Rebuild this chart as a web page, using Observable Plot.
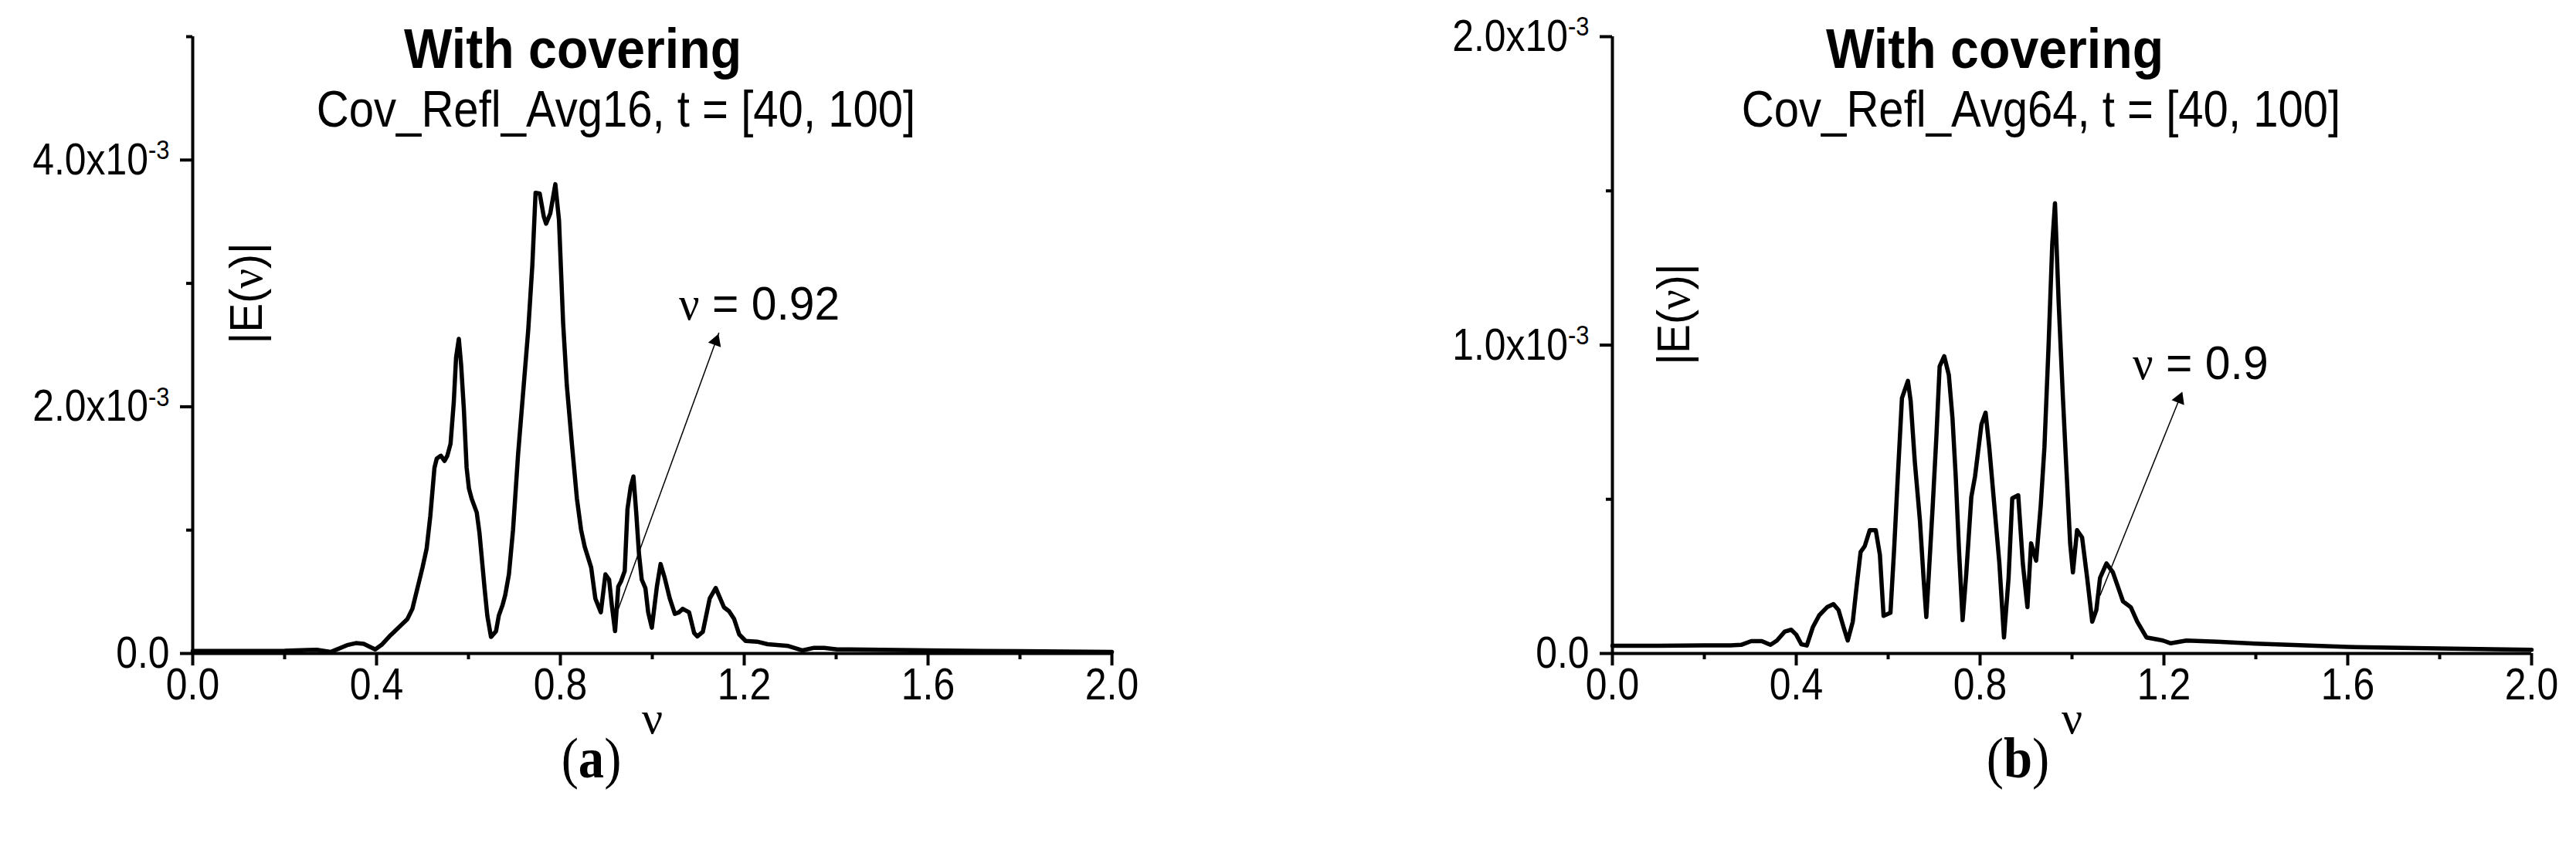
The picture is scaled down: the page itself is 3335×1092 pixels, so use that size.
<!DOCTYPE html>
<html><head><meta charset="utf-8">
<script src="https://cdn.jsdelivr.net/npm/d3@7"></script>
<script src="https://cdn.jsdelivr.net/npm/@observablehq/plot@0.6"></script>
<style>
html,body{margin:0;padding:0;background:#fff;}
#wrap{position:relative;width:3335px;height:1092px;overflow:hidden;background:#fff;}
.panel{position:absolute;top:0;}
</style></head><body><div id="wrap"></div>
<script>
// ---- data (|E| values in units of 1e-3) ----
const nuA = [0.00,0.10,0.20,0.25,0.27,0.30,0.338,0.355,0.372,0.397,0.411,0.428,0.450,0.467,0.478,0.489,0.500,0.509,0.517,0.526,0.531,0.540,0.548,0.554,0.561,0.568,0.573,0.579,0.584,0.590,0.596,0.601,0.607,0.618,0.624,0.635,0.641,0.649,0.660,0.666,0.674,0.680,0.688,0.697,0.708,0.719,0.730,0.739,0.746,0.755,0.764,0.769,0.778,0.789,0.797,0.806,0.814,0.825,0.836,0.845,0.853,0.867,0.876,0.888,0.898,0.906,0.912,0.919,0.926,0.932,0.940,0.946,0.953,0.959,0.965,0.971,0.977,0.985,0.991,0.999,1.010,1.018,1.027,1.038,1.049,1.058,1.066,1.080,1.091,1.098,1.110,1.125,1.138,1.156,1.167,1.178,1.189,1.203,1.228,1.251,1.296,1.327,1.352,1.374,1.402,1.430,1.60,1.80,2.00];
const EA = [0.020,0.020,0.022,0.028,0.030,0.012,0.070,0.084,0.078,0.033,0.070,0.139,0.217,0.279,0.362,0.530,0.697,0.850,1.115,1.505,1.580,1.603,1.561,1.603,1.700,2.035,2.397,2.550,2.341,1.979,1.505,1.338,1.254,1.143,0.975,0.530,0.307,0.134,0.181,0.307,0.390,0.474,0.641,1.003,1.616,2.118,2.620,3.149,3.735,3.729,3.539,3.484,3.567,3.804,3.512,2.676,2.174,1.700,1.254,1.003,0.864,0.697,0.446,0.334,0.641,0.599,0.390,0.181,0.543,0.585,0.669,1.171,1.352,1.435,1.143,0.808,0.599,0.530,0.334,0.209,0.543,0.725,0.613,0.446,0.321,0.334,0.362,0.334,0.167,0.138,0.176,0.447,0.531,0.374,0.343,0.280,0.155,0.102,0.096,0.075,0.061,0.025,0.046,0.046,0.033,0.033,0.025,0.018,0.013];

const nuB = [0.00,0.10,0.20,0.257,0.280,0.302,0.325,0.344,0.358,0.375,0.389,0.400,0.411,0.423,0.436,0.450,0.467,0.481,0.492,0.504,0.512,0.523,0.532,0.540,0.549,0.560,0.573,0.582,0.590,0.605,0.613,0.621,0.630,0.643,0.649,0.658,0.669,0.677,0.683,0.688,0.697,0.705,0.712,0.722,0.732,0.740,0.747,0.754,0.762,0.770,0.781,0.789,0.803,0.812,0.820,0.831,0.842,0.852,0.862,0.870,0.883,0.893,0.903,0.911,0.922,0.932,0.940,0.949,0.957,0.963,0.971,0.980,0.988,0.996,1.002,1.011,1.022,1.033,1.044,1.053,1.061,1.075,1.089,1.111,1.128,1.142,1.162,1.198,1.215,1.249,1.316,1.40,1.60,1.80,2.00];
const EB = [0.025,0.025,0.026,0.026,0.028,0.040,0.040,0.028,0.042,0.071,0.077,0.061,0.030,0.026,0.085,0.124,0.150,0.160,0.141,0.080,0.042,0.103,0.226,0.329,0.348,0.400,0.400,0.320,0.122,0.132,0.339,0.574,0.828,0.884,0.818,0.621,0.433,0.245,0.118,0.245,0.480,0.705,0.931,0.964,0.903,0.762,0.574,0.339,0.108,0.260,0.508,0.574,0.743,0.781,0.668,0.480,0.292,0.052,0.245,0.503,0.513,0.292,0.150,0.357,0.301,0.480,0.668,0.997,1.326,1.460,1.138,0.837,0.593,0.357,0.263,0.400,0.376,0.245,0.103,0.141,0.245,0.292,0.263,0.169,0.150,0.103,0.052,0.042,0.033,0.042,0.038,0.032,0.021,0.016,0.012];

const xMajor = [0, 0.4, 0.8, 1.2, 1.6, 2.0];
const xMinor = [0.2, 0.6, 1.0, 1.4, 1.8];
const yMajorA = [0, 2, 4], yMinorA = [1, 3, 5];
const yMajorB = [0, 1, 2], yMinorB = [0.5, 1.5];

const titles = ["With covering", "With covering"];
const subtitles = ["Cov_Refl_Avg16, t = [40, 100]", "Cov_Refl_Avg64, t = [40, 100]"];
const tags = ["(a)", "(b)"];
const notes = ["ν = 0.92", "ν = 0.9"];
const yTitle = "|E(ν)|", xTitle = "ν";
// arrows: start on curve, end at label
const arrowA = {x1: 0.921, y1: 0.31, x2: 1.145, y2: 2.60};
const arrowB = {x1: 1.061, y1: 0.188, x2: 1.239, y2: 0.845};
const noteA = {x: 1.058, y: 2.83};
const noteB = {x: 1.132, y: 0.94};
const yLabelA = {y: 2.92}, yLabelB = {y: 1.10};

// ---- layout ----
const SANS = "'Liberation Sans', Arial, sans-serif";
const SERIF = "'Liberation Serif', 'Times New Roman', serif";
const PW = 1190, PH = 799, MT = 47, MB = 1092 - MT - PH;

function panel(cfg) {
  const data = cfg.nu.map((n, i) => ({nu: n, E: cfg.E[i]}));
  const kx = PW / 2, ky = PH / cfg.yMax;
  const a = cfg.arrow;
  const ang = Math.atan2((a.x2 - a.x1) * kx, (a.y2 - a.y1) * ky) * 180 / Math.PI;
  const head = {x: a.x2 - 0.03 * (a.x2 - a.x1), y: a.y2 - 0.03 * (a.y2 - a.y1)};
  const fmt = d => d === 0 ? "0.0" : d.toFixed(1) + "x10^-3";
  const mid = {textAnchor: "middle", lineAnchor: "middle"};
  return Plot.plot({
    width: cfg.width, height: 1092,
    marginLeft: cfg.ml, marginRight: cfg.width - cfg.ml - PW, marginTop: MT, marginBottom: MB,
    style: {fontFamily: SANS, color: "#000", background: "#fff", overflow: "visible"},
    x: {domain: [0, 2], label: null},
    y: {domain: [0, cfg.yMax], label: null},
    marks: [
      Plot.axisX(xMinor, {tickSize: 8, strokeWidth: 4, tickFormat: () => ""}),
      Plot.axisX(xMajor, {tickSize: 16, tickPadding: 2, strokeWidth: 4, fontSize: 58, tickFormat: d => d.toFixed(1)}),
      Plot.axisY(cfg.yMinor, {tickSize: 8, strokeWidth: 4, tickFormat: () => ""}),
      Plot.axisY(cfg.yMajor, {tickSize: 16, tickPadding: 14, strokeWidth: 4, fontSize: 58, tickFormat: fmt}),
      Plot.ruleY([0], {strokeWidth: 4}),
      Plot.ruleX([0], {strokeWidth: 4}),
      Plot.link([a], {x1: "x1", y1: "y1", x2: "x2", y2: "y2", stroke: "#000", strokeWidth: 1.5}),
      Plot.dot([head], {x: "x", y: "y", symbol: "triangle", r: 6.5, fill: "#000", stroke: "none", rotate: ang}),
      Plot.line(data, {x: "nu", y: "E", stroke: "#000", strokeWidth: 5.5, strokeLinejoin: "round"}),
      Plot.text([cfg.note], {x: d => cfg.noteAt.x, y: d => cfg.noteAt.y, text: d => d, textAnchor: "start", lineAnchor: "middle", fontSize: 62}),
      Plot.text([yTitle], {y: d => cfg.yLabel.y, text: d => d, frameAnchor: "left", dx: cfg.yLabelDx, rotate: -90, fontSize: 60, ...mid}),
      Plot.text([cfg.title], {text: d => d, frameAnchor: "top", dx: cfg.titleDx, dy: 17, fontSize: 72, fontWeight: "bold", ...mid}),
      Plot.text([cfg.subtitle], {text: d => d, frameAnchor: "top", dx: cfg.subDx, dy: 95, fontSize: 66, ...mid}),
      Plot.text([xTitle], {text: d => d, frameAnchor: "bottom", dy: 84, fontSize: 60, ...mid}),
      Plot.text([cfg.tag], {text: d => d, frameAnchor: "bottom", dx: cfg.tagDx, dy: 137, fontSize: 74, fontFamily: SERIF, ...mid})
    ]
  });
}

// horizontal condensation of the (tall, narrow) lettering of the original
function sxFor(s) {
  if (titles.includes(s)) return 0.92;
  if (subtitles.includes(s)) return 0.88;
  if (notes.includes(s)) return 0.95;
  if (tags.includes(s)) return 0.9;
  if (s === xTitle) return 1;
  if (s === yTitle) return 0.95;
  return 0.86;
}

function postProcess(svg) {
  const NS = "http://www.w3.org/2000/svg";
  svg.querySelectorAll("text").forEach(t => {
    if (t.children.length) return;
    const s = t.textContent;
    if (!s) return;
    const sx = sxFor(s);
    if (s.includes("^")) {
      const [base, exp] = s.split("^");
      t.textContent = base;
      const sp = document.createElementNS(NS, "tspan");
      sp.setAttribute("dy", "-0.55em");
      sp.setAttribute("font-size", "0.62em");
      sp.textContent = exp;
      t.appendChild(sp);
    } else if (/^\([ab]\)$/.test(s)) {
      t.textContent = "(";
      const b = document.createElementNS(NS, "tspan");
      b.setAttribute("font-weight", "bold");
      b.textContent = s[1];
      t.appendChild(b);
      t.appendChild(document.createTextNode(")"));
    } else if (s.includes("ν")) {
      t.textContent = "";
      s.split(/(ν)/).forEach(part => {
        if (part === "ν") {
          const g = document.createElementNS(NS, "tspan");
          g.setAttribute("font-family", SERIF);
          g.textContent = "ν";
          t.appendChild(g);
        } else if (part) t.appendChild(document.createTextNode(part));
      });
    }
    if (sx !== 1) {
      const tr = t.getAttribute("transform") || "";
      t.setAttribute("transform", (tr + ` scale(${sx},1)`).trim());
    }
  });
}

const wrap = document.getElementById("wrap");
const cfgs = [
  {nu: nuA, E: EA, yMax: 5, yMajor: yMajorA, yMinor: yMinorA, width: 1600, ml: 249, left: 0,
   arrow: arrowA, note: notes[0], noteAt: noteA, yLabel: yLabelA, yLabelDx: 70,
   title: titles[0], subtitle: subtitles[0], tag: tags[0], titleDx: -103, subDx: -47, tagDx: -79},
  {nu: nuB, E: EB, yMax: 2, yMajor: yMajorB, yMinor: yMinorB, width: 1735, ml: 487, left: 1600,
   arrow: arrowB, note: notes[1], noteAt: noteB, yLabel: yLabelB, yLabelDx: 80,
   title: titles[1], subtitle: subtitles[1], tag: tags[1], titleDx: -100, subDx: -40, tagDx: -70}
];
cfgs.forEach(c => {
  const svg = panel(c);
  postProcess(svg);
  const d = document.createElement("div");
  d.className = "panel";
  d.style.left = c.left + "px";
  d.appendChild(svg);
  wrap.appendChild(d);
});
</script></body></html>
